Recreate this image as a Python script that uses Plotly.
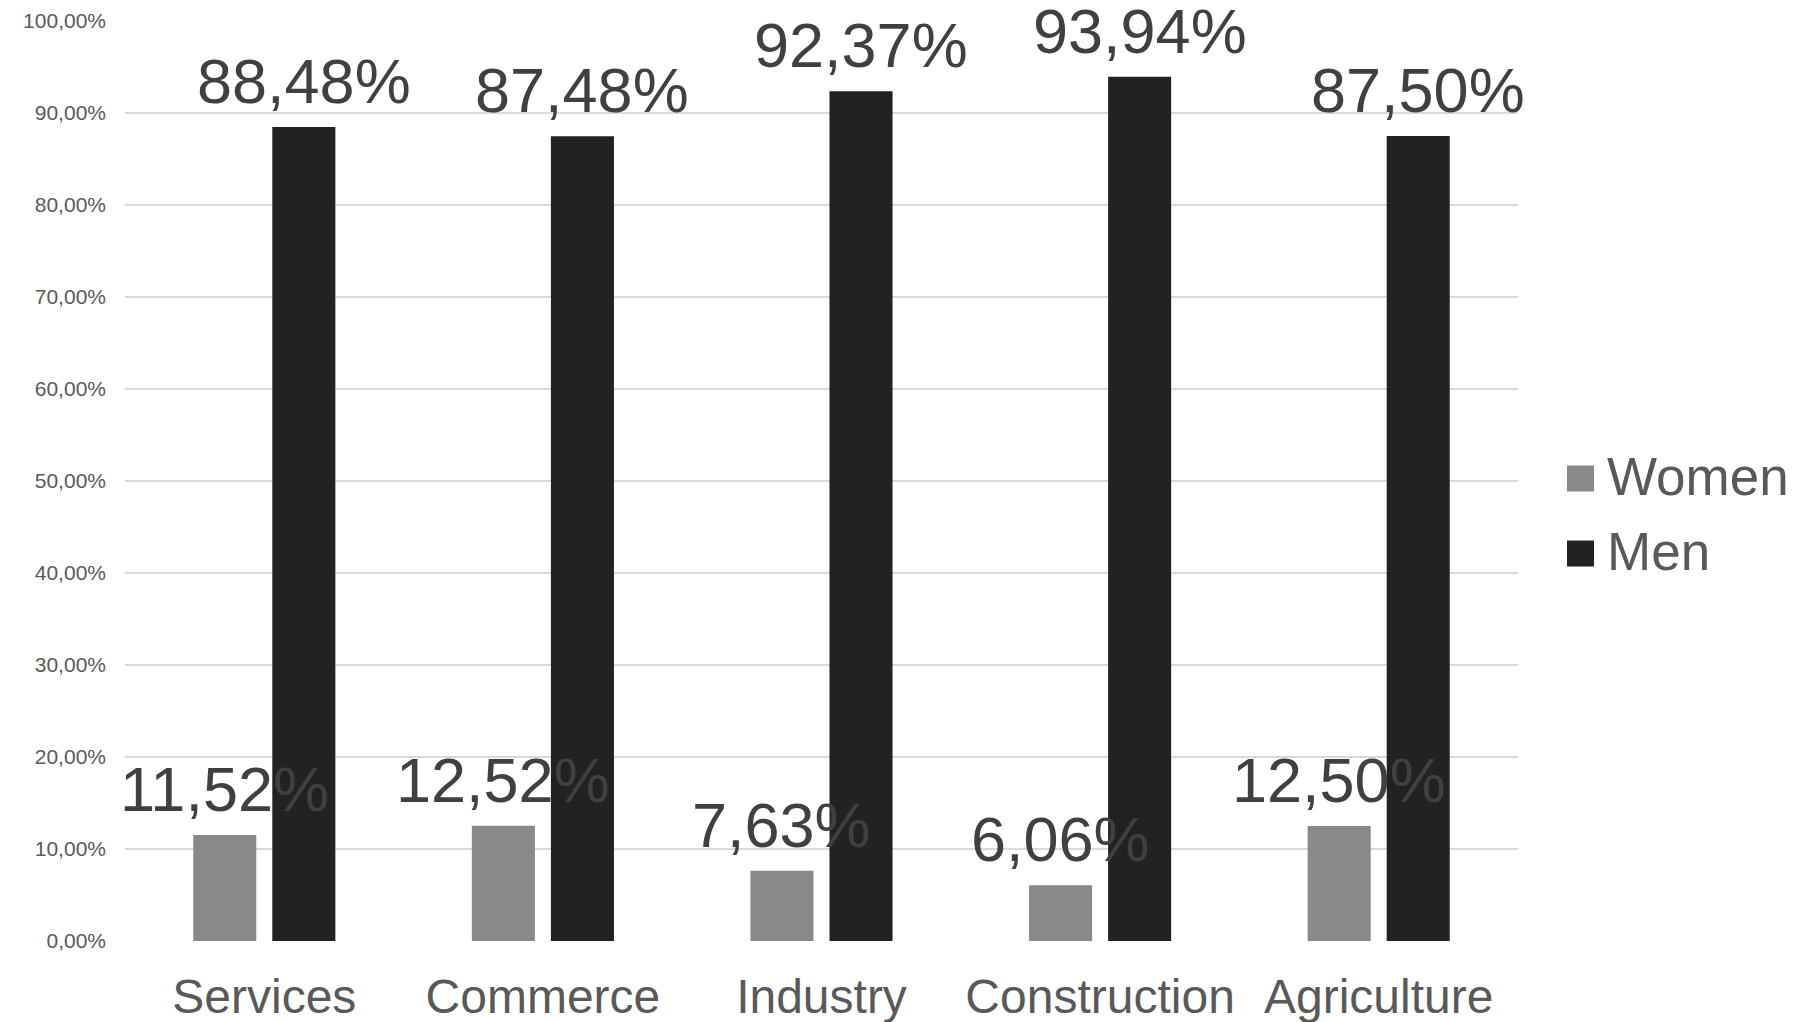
import plotly.graph_objects as go

# Share of employment by sex, per economic sector (percent)
categories = ["Services", "Commerce", "Industry", "Construction", "Agriculture"]
women = [11.52, 12.52, 7.63, 6.06, 12.50]
men = [88.48, 87.48, 92.37, 93.94, 87.50]
series_names = ["Women", "Men"]
y_ticks = [0, 10, 20, 30, 40, 50, 60, 70, 80, 90, 100]

WOMEN_COLOR = "#898989"
MEN_COLOR = "#222222"
LABEL_COLOR = "#404040"
AXIS_TEXT = "#595959"
GRID = "#d9d9d9"
FONT = "Liberation Sans, Arial, sans-serif"

W, H = 1796, 1022
M_L, M_R, M_T, M_B = 125, 278, 21, 81
PLOT_W = W - M_L - M_R
PLOT_H = H - M_T - M_B
BARGAP = 0.4325
BARGROUPGAP = 0.2025


def pct(v):
    return f"{v:.2f}".replace(".", ",") + "%"


fig = go.Figure()
fig.add_trace(go.Bar(x=categories, y=women, name=series_names[0],
                     marker=dict(color=WOMEN_COLOR, line=dict(width=0)),
                     showlegend=False))
fig.add_trace(go.Bar(x=categories, y=men, name=series_names[1],
                     marker=dict(color=MEN_COLOR, line=dict(width=0)),
                     showlegend=False))

# value labels above each bar, drawn on top of all bars
slot = PLOT_W / len(categories) * (1 - BARGAP) / 2
annotations = []
for i, cat in enumerate(categories):
    for vals, shift in ((women, -slot / 2), (men, slot / 2)):
        annotations.append(dict(
            x=cat, y=vals[i], xref="x", yref="y", text=pct(vals[i]),
            showarrow=False, xanchor="center", yanchor="bottom",
            xshift=shift, yshift=9,
            font=dict(family=FONT, size=63, color=LABEL_COLOR)))

# legend: square swatches with labels to the right of the plot
def px_x(px):
    return (px - M_L) / PLOT_W


def px_y(py):
    return 1 - (py - M_T) / PLOT_H


shapes = []
legend_rows = [(series_names[0], WOMEN_COLOR, 478.5), (series_names[1], MEN_COLOR, 553.5)]
for name, color, cy in legend_rows:
    shapes.append(dict(type="rect", xref="paper", yref="paper",
                       x0=px_x(1567), x1=px_x(1594),
                       y0=px_y(cy + 13), y1=px_y(cy - 13),
                       fillcolor=color, line=dict(width=0)))
    annotations.append(dict(x=px_x(1605), y=px_y(cy - 2), xref="paper", yref="paper",
                            text=name, showarrow=False, xanchor="left", yanchor="middle",
                            font=dict(family=FONT, size=53, color=AXIS_TEXT)))

fig.update_layout(
    width=W, height=H,
    margin=dict(l=M_L, r=M_R, t=M_T, b=M_B, pad=0),
    paper_bgcolor="white", plot_bgcolor="white",
    barmode="group", bargap=BARGAP, bargroupgap=BARGROUPGAP,
    showlegend=False,
    shapes=shapes,
    annotations=annotations,
    font=dict(family=FONT, color=AXIS_TEXT),
)
fig.update_xaxes(
    range=[-0.5, len(categories) - 0.5], automargin=False,
    showgrid=False, showline=False, zeroline=False, ticks="",
    tickfont=dict(family=FONT, size=48, color=AXIS_TEXT),
    ticklabelstandoff=23,
)
fig.update_yaxes(
    range=[0, 100], automargin=False,
    tickmode="array", tickvals=y_ticks, ticktext=[pct(v) for v in y_ticks],
    showgrid=True, gridcolor=GRID, gridwidth=1.5,
    showline=False, zeroline=False, ticks="",
    tickfont=dict(family=FONT, size=21, color=AXIS_TEXT),
    ticklabelstandoff=18,
)

fig.write_html("out.html")
